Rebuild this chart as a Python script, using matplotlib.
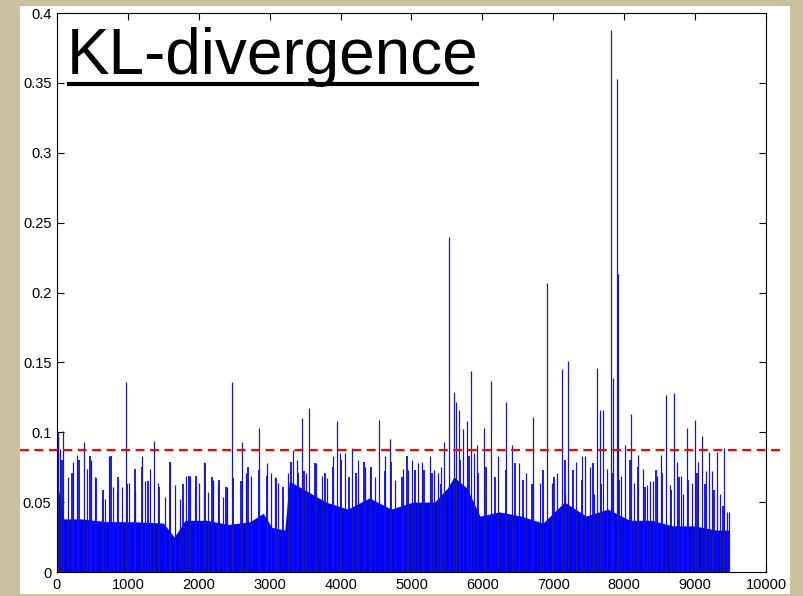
import matplotlib
matplotlib.use("Agg")
import matplotlib.pyplot as plt
from matplotlib.lines import Line2D
from matplotlib.patches import Rectangle
import matplotlib.transforms as mtransforms

# dense part of the signal (solid blue band)
body_x = [0, 94, 339, 706, 1073, 1501, 1654, 1807, 2113, 2418, 2724, 2908,
          3030, 3213, 3275, 3520, 3794, 4100, 4406, 4712, 5018, 5324, 5507,
          5599, 5782, 5966, 6241, 6547, 6853, 7158, 7464, 7770, 8076, 8382,
          8687, 8993, 9299, 9480]
body_y = [0.065, 0.038, 0.038, 0.036, 0.036, 0.035, 0.025, 0.037, 0.037,
          0.034, 0.036, 0.042, 0.032, 0.030, 0.065, 0.058, 0.050, 0.045,
          0.053, 0.045, 0.050, 0.050, 0.060, 0.068, 0.060, 0.040, 0.043,
          0.040, 0.035, 0.050, 0.040, 0.045, 0.037, 0.037, 0.033, 0.033,
          0.030, 0.030]

# medium spikes just above the band
mid_x = [64, 217, 308, 461, 553, 645, 755, 859, 981, 1103, 1195, 1287, 1440,
         1593, 1776, 1868, 1960, 2082, 2186, 2284, 2388, 2480, 2602, 2694,
         2847, 2957, 3091, 3183, 3305, 3397, 3489, 3642, 3776, 3886, 4009,
         4119, 4223, 4327, 4424, 4620, 4712, 4865, 4938, 5048, 5171, 5293,
         5415, 5690, 5813, 5935, 6057, 6180, 6333, 6455, 6577, 6700, 6853,
         7005, 7158, 7281, 7403, 7556, 7678, 7831, 7922, 8076, 8198, 8290,
         8443, 8534, 8657, 8779, 8901, 9024, 9146, 9268, 9391]
mid_y = [0.080, 0.071, 0.080, 0.083, 0.067, 0.059, 0.083, 0.068, 0.063,
         0.074, 0.075, 0.065, 0.061, 0.079, 0.063, 0.069, 0.069, 0.078,
         0.068, 0.066, 0.061, 0.067, 0.065, 0.075, 0.073, 0.069, 0.067,
         0.061, 0.079, 0.071, 0.072, 0.078, 0.071, 0.075, 0.080, 0.068,
         0.071, 0.079, 0.075, 0.072, 0.079, 0.068, 0.083, 0.073, 0.073,
         0.071, 0.063, 0.080, 0.083, 0.071, 0.075, 0.068, 0.073, 0.078,
         0.066, 0.063, 0.073, 0.068, 0.080, 0.073, 0.066, 0.078, 0.063,
         0.071, 0.066, 0.080, 0.075, 0.061, 0.073, 0.071, 0.059, 0.068,
         0.066, 0.071, 0.063, 0.059, 0.047]

# tall spikes
spike_x = [10, 19, 42, 89, 160, 230, 287, 381, 428, 475, 536, 630, 677, 738,
           794, 841, 912, 968, 1020, 1100, 1194, 1241, 1312, 1368, 1429, 1523,
           1594, 1664, 1735, 1815, 1876, 1946, 2003, 2078, 2134, 2205, 2275,
           2346, 2393, 2473, 2614, 2661, 2736, 2849, 2957, 3018, 3075, 3122,
           3263, 3333, 3380, 3451, 3508, 3559, 3648, 3733, 3804, 3898, 3954,
           3992, 4063, 4157, 4251, 4345, 4415, 4486, 4542, 4627, 4697, 4768,
           4885, 4946, 5002, 5096, 5153, 5261, 5318, 5369, 5417, 5464, 5529,
           5604, 5632, 5675, 5731, 5778, 5834, 5886, 5928, 6027, 6121, 6225,
           6333, 6417, 6516, 6610, 6718, 6812, 6911, 6986, 7047, 7118, 7165,
           7212, 7316, 7400, 7447, 7518, 7579, 7612, 7654, 7706, 7754, 7810,
           7847, 7900, 7913, 7956, 8011, 8096, 8143, 8199, 8260, 8317, 8364,
           8411, 8458, 8519, 8590, 8646, 8707, 8749, 8801, 8834, 8890, 8951,
           8998, 9045, 9092, 9149, 9196, 9243, 9304, 9351, 9407, 9445, 9480]
spike_y = [0.100, 0.096, 0.088, 0.101, 0.068, 0.079, 0.084, 0.093, 0.074,
           0.080, 0.068, 0.052, 0.052, 0.083, 0.061, 0.057, 0.061, 0.136,
           0.064, 0.058, 0.083, 0.065, 0.074, 0.094, 0.064, 0.054, 0.079,
           0.062, 0.052, 0.069, 0.069, 0.061, 0.064, 0.079, 0.057, 0.066,
           0.062, 0.054, 0.061, 0.136, 0.093, 0.071, 0.069, 0.103, 0.078,
           0.071, 0.068, 0.064, 0.071, 0.087, 0.080, 0.110, 0.071, 0.117,
           0.078, 0.069, 0.067, 0.083, 0.108, 0.085, 0.085, 0.089, 0.080,
           0.075, 0.073, 0.068, 0.109, 0.083, 0.095, 0.066, 0.074, 0.073,
           0.080, 0.078, 0.079, 0.083, 0.073, 0.071, 0.075, 0.093, 0.240,
           0.129, 0.122, 0.116, 0.102, 0.108, 0.144, 0.085, 0.091, 0.103,
           0.137, 0.083, 0.122, 0.091, 0.078, 0.071, 0.111, 0.064, 0.207,
           0.064, 0.071, 0.145, 0.056, 0.151, 0.079, 0.083, 0.083, 0.075,
           0.056, 0.146, 0.116, 0.116, 0.074, 0.388, 0.139, 0.353, 0.213,
           0.069, 0.091, 0.113, 0.064, 0.084, 0.074, 0.062, 0.065, 0.065,
           0.069, 0.084, 0.127, 0.062, 0.128, 0.079, 0.069, 0.056, 0.103,
           0.064, 0.109, 0.079, 0.097, 0.072, 0.086, 0.072, 0.086, 0.056,
           0.089, 0.043, 0.043]

threshold = 0.087
x_ticks = [0, 1000, 2000, 3000, 4000, 5000, 6000, 7000, 8000, 9000, 10000]
y_ticks = [0, 0.05, 0.1, 0.15, 0.2, 0.25, 0.3, 0.35, 0.4]
y_labels = ["0", "0.05", "0.1", "0.15", "0.2", "0.25", "0.3", "0.35", "0.4"]

plt.rcParams['font.family'] = ['Liberation Sans', 'DejaVu Sans']

W, H = 804, 596
fig = plt.figure(figsize=(W / 100, H / 100), dpi=100, facecolor='#c9c1a0')

# white slide panel
fig.add_artist(Rectangle((20 / W, 2 / H), 770 / W, 588 / H,
                         transform=fig.transFigure, facecolor='white',
                         edgecolor='none', zorder=0))

ax = fig.add_axes([57 / W, 24 / H, 709 / W, 559 / H])
ax.set_facecolor('white')

ax.fill_between(body_x, 0, body_y, color='#0000ff', linewidth=0, zorder=2)
ax.vlines(mid_x, 0, mid_y, color='#0a0af0', linewidth=1.3, zorder=3)
ax.vlines(spike_x, 0, spike_y, color='#1a1aa8', linewidth=0.9, zorder=3)

# threshold line, runs past the axes on both sides
trans = mtransforms.blended_transform_factory(ax.transAxes, ax.transData)
ax.plot([-0.052, 1.027], [threshold, threshold], transform=trans,
        color='#ff0000', linewidth=1.6, dashes=(4, 2.5), clip_on=False, zorder=4)

ax.set_xlim(0, 10000)
ax.set_ylim(0, 0.4)
ax.set_xticks(x_ticks)
ax.set_yticks(y_ticks)
ax.set_yticklabels(y_labels)
ax.tick_params(direction='in', length=5, width=0.8, top=True, right=True,
               labelsize=10.5, pad=4)
for s in ax.spines.values():
    s.set_linewidth(0.8)

# underlined heading
title = fig.text(67 / W, 1 - 74 / H, "KL-divergence", fontsize=46,
                 ha='left', va='baseline', zorder=5)
fig.canvas.draw()
bb = title.get_window_extent()
fig.add_artist(Line2D([bb.x0 / W, bb.x1 / W], [1 - 84 / H, 1 - 84 / H],
                      transform=fig.transFigure, color='black', linewidth=3,
                      solid_capstyle='butt', zorder=5))

fig.savefig("out.png", dpi=100, facecolor=fig.get_facecolor())
